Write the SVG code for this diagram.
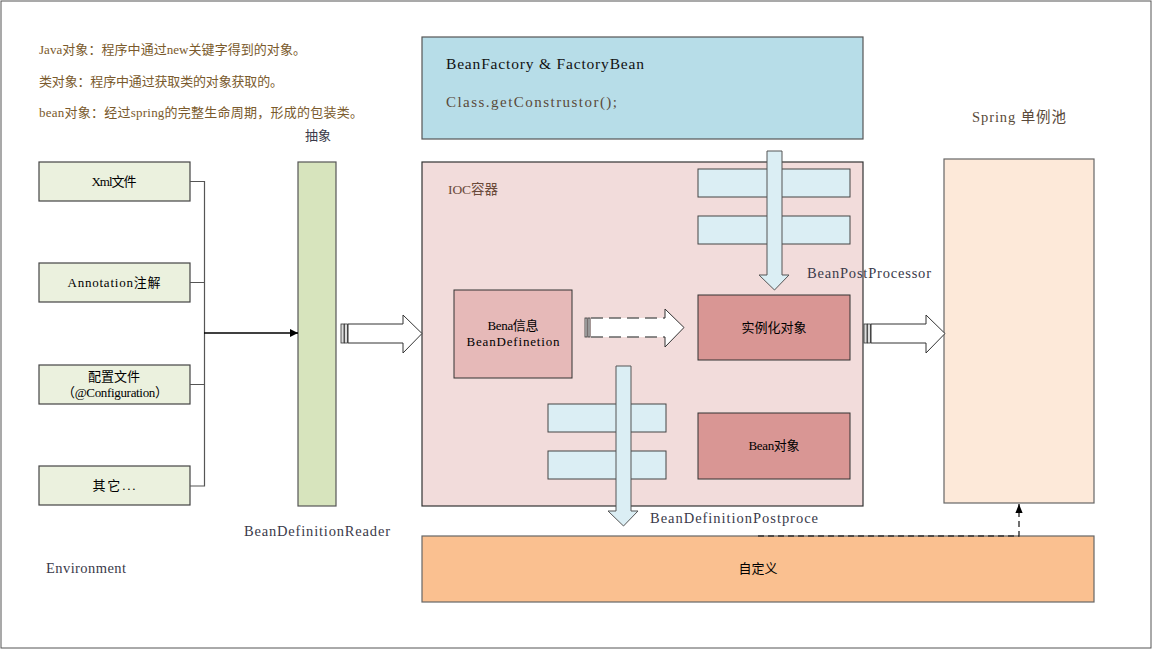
<svg xmlns="http://www.w3.org/2000/svg" width="1153" height="650" viewBox="0 0 1153 650">
<defs>
<style>
.t{font-family:"Liberation Serif","Noto Sans CJK SC",serif;}
.note{font-size:13px;fill:#7a5a2c;}
.lbl{font-size:14.5px;fill:#3a3a4a;}
.box{font-family:"Liberation Serif","Noto Sans CJK SC",serif;font-size:13px;fill:#000;text-anchor:middle;}
.src{fill:#ebf1de;stroke:#444;stroke-width:1.2;}
.bar{fill:#dbeef4;stroke:#444;stroke-width:1;}
.red{fill:#d99694;stroke:#333;stroke-width:1;}
.hollow{fill:#fff;stroke:#333;stroke-width:1;}
.stub{fill:none;stroke:#555;stroke-width:1.2;}
.tail{fill:#ddd;stroke:#333;stroke-width:0.8;}
</style>
<marker id="ah" viewBox="0 0 10 10" refX="10" refY="5" markerWidth="8" markerHeight="8" markerUnits="userSpaceOnUse" orient="auto">
<path d="M0,0 L10,5 L0,10 z" fill="#000"/>
</marker>
<marker id="ah2" viewBox="0 0 10 10" refX="10" refY="5" markerWidth="9" markerHeight="9" markerUnits="userSpaceOnUse" orient="auto">
<path d="M0,1 L10,5 L0,9 z" fill="#000"/>
</marker>
</defs>
<rect x="1" y="1" width="1150" height="647" fill="#fff" stroke="#555" stroke-width="1"/>

<g id="notes" class="t note">
<text x="39" y="54" textLength="267" lengthAdjust="spacing">Java对象：程序中通过new关键字得到的对象。</text>
<text x="39" y="86" textLength="244" lengthAdjust="spacing">类对象：程序中通过获取类的对象获取的。</text>
<text x="39" y="117" textLength="324" lengthAdjust="spacing">bean对象：经过spring的完整生命周期，形成的包装类。</text>
</g>

<g id="src-xml"><rect class="src" x="39" y="162" width="151" height="39"/><text class="box" x="114" y="186" textLength="45" lengthAdjust="spacing">Xml文件</text></g>
<g id="src-annotation"><rect class="src" x="39" y="263" width="151" height="39"/><text class="box" x="114" y="287" textLength="93" lengthAdjust="spacing">Annotation注解</text></g>
<g id="src-config"><rect class="src" x="39" y="365" width="151" height="39"/><text class="box" x="114" y="381">配置文件</text><text class="box" x="115" y="397" textLength="106" lengthAdjust="spacing">（@Configuration）</text></g>
<g id="src-other"><rect class="src" x="39" y="466" width="151" height="39"/><text class="box" x="114" y="490" textLength="43" lengthAdjust="spacing">其它...</text></g>

<g id="reader"><rect x="298" y="162" width="38" height="344" fill="#d7e4bd" stroke="#555" stroke-width="1.2"/></g>

<g id="factory"><rect x="422" y="37" width="441" height="102" fill="#b7dde8" stroke="#555" stroke-width="1.2"/>
<text class="t" x="446" y="69" style="font-size:15.5px;fill:#111" textLength="198" lengthAdjust="spacing">BeanFactory &amp; FactoryBean</text>
<text class="t" x="446" y="107" style="font-size:15px;fill:#5a4a3a" textLength="171" lengthAdjust="spacing">Class.getConstrustor();</text></g>

<g id="ioc"><rect x="422" y="162" width="441" height="344" fill="#f2dcdb" stroke="#333" stroke-width="1.2"/>
<text class="t" x="448" y="194" style="font-size:13.5px;fill:#6a4a3a" textLength="50" lengthAdjust="spacing">IOC容器</text></g>

<g id="bpp-bars"><rect class="bar" x="698" y="169" width="152" height="28"/><rect class="bar" x="698" y="216" width="152" height="28"/></g>
<g id="bdpp-bars"><rect class="bar" x="548" y="404" width="118" height="28"/><rect class="bar" x="548" y="451" width="118" height="28"/></g>

<g id="beaninfo"><rect x="454" y="290" width="118" height="88" fill="#e6b9b8" stroke="#333" stroke-width="1"/>
<text class="box" x="513" y="330" textLength="51" lengthAdjust="spacing">Bena信息</text><text class="box" x="513" y="346" textLength="93" lengthAdjust="spacing">BeanDefinetion</text></g>

<g id="instance"><rect class="red" x="698" y="295" width="152" height="65"/><text class="box" x="774" y="332">实例化对象</text></g>
<g id="bean"><rect class="red" x="698" y="413" width="152" height="66"/><text class="box" x="774" y="450" textLength="51" lengthAdjust="spacing">Bean对象</text></g>

<g id="pool"><rect x="944" y="159" width="150" height="344" fill="#fde9d9" stroke="#666" stroke-width="1.2"/></g>

<g id="custom"><rect x="422" y="536" width="672" height="66" fill="#fac090" stroke="#666" stroke-width="1.2"/><text class="box" x="758" y="573">自定义</text></g>

<g id="connectors">
<path class="stub" d="M190,181.5 H204.5 V486 H190 M190,282.5 H204.5 M190,384.5 H204.5"/>
<line x1="204" y1="333" x2="298" y2="333" stroke="#000" stroke-width="1.6" marker-end="url(#ah)"/>
<rect class="tail" x="341" y="324" width="3" height="19"/>
<rect class="tail" x="344.5" y="324" width="3" height="19"/>
<path class="hollow" d="M348,324 H403 V315 L422,333.5 L403,353 V343 H348 z"/>
<rect class="tail" x="585" y="318" width="2" height="19"/>
<rect class="tail" x="588" y="318" width="2" height="19"/>
<rect x="591" y="318" width="74" height="19" fill="#fff"/>
<path d="M591,318 H665 M591,337 H665" fill="none" stroke="#666" stroke-width="1.3" stroke-dasharray="12,6"/>
<path d="M665,318 V309 L684,327.5 L665,347 V337" fill="#fff" stroke="#333" stroke-width="1"/>
<rect class="tail" x="864" y="324" width="3" height="19"/>
<rect class="tail" x="867.5" y="324" width="3" height="19"/>
<path class="hollow" d="M871,324 H926 V315 L945,333.5 L926,353 V343 H871 z"/>
<path d="M767,151 H782 V275 H789 L774.5,290 L759,275 H767 z" fill="#dbeef4" stroke="#555" stroke-width="1"/>
<path d="M616,366 H631 V511 H638 L623.5,526 L608,511 H616 z" fill="#dbeef4" stroke="#555" stroke-width="1"/>
<path d="M758,536 H1019 V504" fill="none" stroke="#333" stroke-width="1.4" stroke-dasharray="6,4" marker-end="url(#ah2)"/>
</g>

<g id="labels" class="t lbl">
<text x="318" y="140" text-anchor="middle" style="font-size:13px">抽象</text>
<text x="244" y="536" textLength="146" lengthAdjust="spacing">BeanDefinitionReader</text>
<text x="46" y="573" textLength="80" lengthAdjust="spacing">Environment</text>
<text x="807" y="278" textLength="124" lengthAdjust="spacing">BeanPostProcessor</text>
<text x="650" y="523" textLength="168" lengthAdjust="spacing">BeanDefinitionPostproce</text>
<text x="972" y="122" style="fill:#5a4a3a" textLength="94" lengthAdjust="spacing">Spring 单例池</text>
</g>
</svg>
